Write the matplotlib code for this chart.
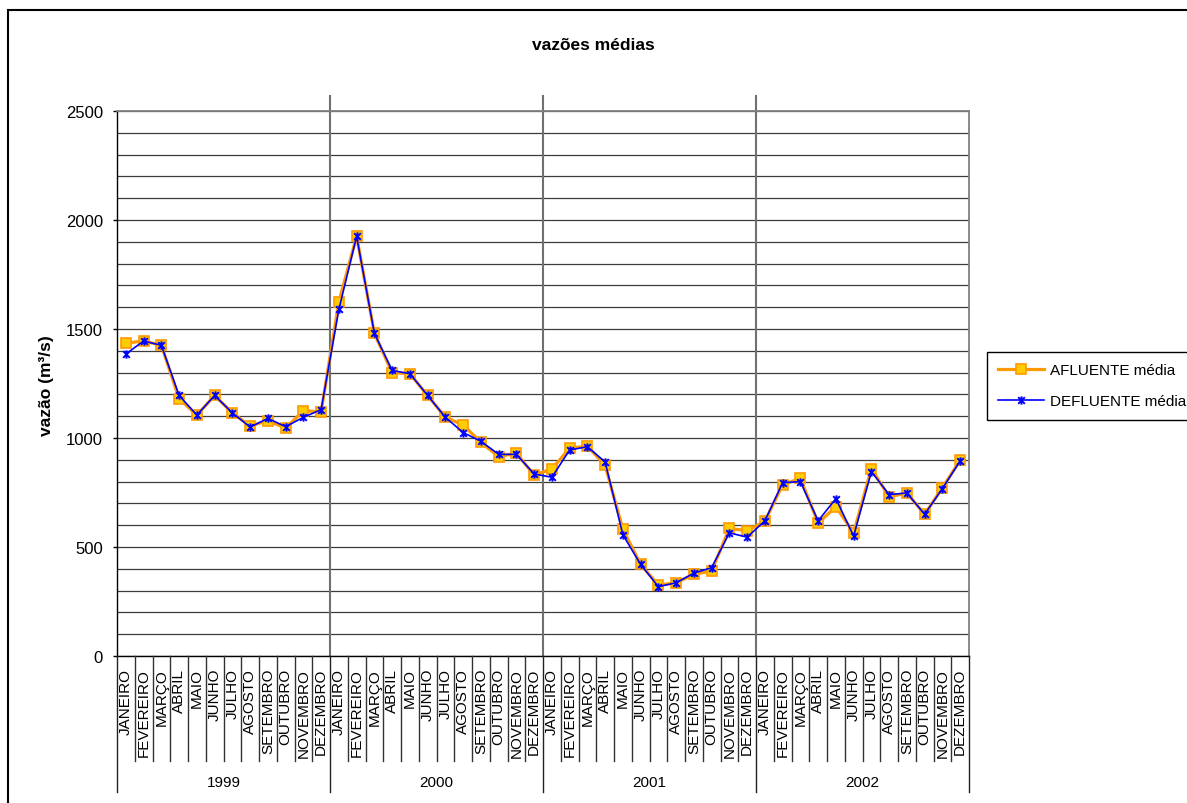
import matplotlib
matplotlib.use('Agg')
import matplotlib.pyplot as plt
from matplotlib.path import Path
from matplotlib.patches import Rectangle
import numpy as np

plt.rcParams['font.family'] = ['Liberation Sans', 'DejaVu Sans']

# ---- data -----------------------------------------------------------------
months = ['JANEIRO', 'FEVEREIRO', 'MARÇO', 'ABRIL', 'MAIO', 'JUNHO', 'JULHO',
          'AGOSTO', 'SETEMBRO', 'OUTUBRO', 'NOVEMBRO', 'DEZEMBRO']
years = ['1999', '2000', '2001', '2002']

afluente = [1435, 1445, 1425, 1180, 1105, 1195, 1115, 1055, 1080, 1045, 1125, 1120,
            1625, 1925, 1480, 1300, 1295, 1195, 1095, 1060, 980, 915, 930, 830,
            858, 953, 963, 874, 582, 420, 325, 336, 375, 390, 585, 575,
            618, 785, 815, 610, 685, 565, 860, 730, 748, 650, 772, 897]
defluente = [1385, 1445, 1425, 1195, 1105, 1195, 1115, 1050, 1090, 1052, 1095, 1130,
             1590, 1925, 1480, 1310, 1295, 1195, 1095, 1025, 985, 925, 925, 835,
             820, 945, 960, 890, 556, 420, 318, 336, 380, 405, 565, 545,
             620, 795, 800, 620, 722, 550, 846, 740, 748, 650, 768, 895]

series_names = ['AFLUENTE média', 'DEFLUENTE média']
title = 'vazões médias'
ylabel = 'vazão (m³/s)'

# ---- figure -----------------------------------------------------------------
W, H = 1187, 804
fig = plt.figure(figsize=(W / 100, H / 100), dpi=100, facecolor='white')

# outer chart frame
fig.patches.append(Rectangle((8 / W, -0.2), 2.0, 1 - 11 / H + 0.2,
                             transform=fig.transFigure, fill=False,
                             lw=1.5, ec='black', zorder=0))

ax_left, ax_right, ax_top, ax_bottom = 117, 969, 112, 657
ax = fig.add_axes([ax_left / W, (H - ax_bottom) / H,
                   (ax_right - ax_left) / W, (ax_bottom - ax_top) / H])
ax_h = ax_bottom - ax_top

n = len(months) * len(years)
x = np.arange(n) + 0.5
ax.set_xlim(0, n)
ax.set_ylim(0, 2500)

ax.set_yticks(np.arange(0, 2501, 500))
ax.set_yticks(np.arange(0, 2501, 100), minor=True)
ax.yaxis.grid(True, which='both', color='#3c3c3c', lw=0.9)
ax.set_axisbelow(True)
ax.set_xticks([])
ax.tick_params(axis='y', which='major', direction='out', length=3, width=1,
               pad=7, labelsize=12, colors='black')
ax.tick_params(axis='y', which='minor', length=0)

for side in ('left', 'bottom'):
    ax.spines[side].set_color('black')
    ax.spines[side].set_linewidth(1)
for side in ('right', 'top'):
    ax.spines[side].set_color('#808080')
    ax.spines[side].set_linewidth(1.3)

xt = ax.get_xaxis_transform()
month_drop = -105 / ax_h
year_drop = -136 / ax_h
year_rise = 1 + 15 / ax_h

# category separators below the axis and year dividers inside the plot
for i in range(n + 1):
    if i % len(months) == 0:
        ax.plot([i, i], [0, year_drop], transform=xt, color='#222222', lw=1,
                clip_on=False, zorder=3)
        if 0 < i < n:
            ax.plot([i, i], [0, year_rise], transform=xt, color='#707070',
                    lw=1.5, clip_on=False, zorder=1)
    else:
        ax.plot([i, i], [0, month_drop], transform=xt, color='#333333', lw=1,
                clip_on=False, zorder=3)

for i in range(n):
    ax.text(x[i], -12 / ax_h, months[i % len(months)], rotation=90,
            ha='center', va='top', transform=xt, fontsize=11)

for k, yr in enumerate(years):
    ax.text(k * len(months) + len(months) / 2, -126 / ax_h, yr,
            ha='center', va='center', transform=xt, fontsize=11)

# asterisk marker: an x crossed by a vertical bar
star = Path([(-1, -1), (1, 1), (-1, 1), (1, -1), (0, -1.25), (0, 1.25)],
            [Path.MOVETO, Path.LINETO] * 3)

ax.plot(x, afluente, color='#FF9900', lw=2.3, marker='s', ms=6.5,
        mfc='#FFCC00', mec='#FF9900', mew=1.2, label=series_names[0],
        clip_on=False, zorder=4)
ax.plot(x, defluente, color='#0000FF', lw=1.2, marker=star, ms=6,
        mfc='none', mec='#0000FF', mew=1.4, label=series_names[1],
        clip_on=False, zorder=5)

fig.text(593.5 / W, 1 - 45 / H, title, ha='center', va='center',
         fontsize=12.5, fontweight='bold')
fig.text(46 / W, 1 - 386 / H, ylabel, ha='center', va='center',
         rotation=90, fontsize=12.5, fontweight='bold')

leg = ax.legend(loc='upper left', bbox_to_anchor=(987 / W, 1 - 353 / H),
                bbox_transform=fig.transFigure, fontsize=11, frameon=True,
                fancybox=False, edgecolor='black', framealpha=1,
                handlelength=3.0, handletextpad=0.35, borderpad=0.75,
                labelspacing=1.1, borderaxespad=0, numpoints=1)
leg.get_frame().set_linewidth(1)

fig.savefig('out.png', dpi=100, facecolor='white')
